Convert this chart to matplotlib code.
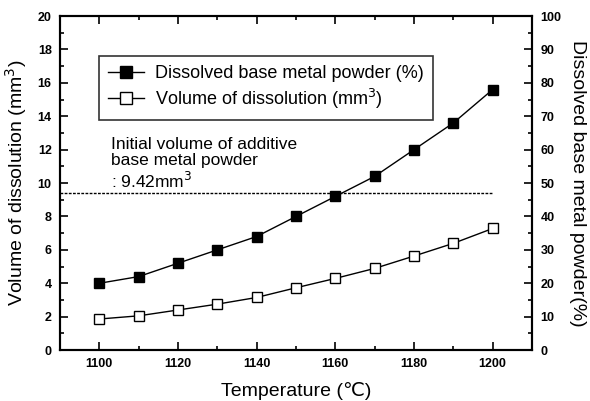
import numpy as np
import matplotlib
matplotlib.use('Agg')
import matplotlib.pyplot as plt

plt.rcParams['font.family'] = ['Liberation Sans', 'DejaVu Sans']

# Data
temperature = [1100, 1110, 1120, 1130, 1140, 1150, 1160, 1170, 1180, 1190, 1200]
dissolved_pct = [20, 22, 26, 30, 34, 40, 46, 52, 60, 68, 78]
volume_mm3 = [1.86, 2.05, 2.4, 2.75, 3.15, 3.73, 4.29, 4.89, 5.63, 6.39, 7.28]
initial_volume = 9.42

fig = plt.figure(figsize=(5.9, 4.01), dpi=100)
ax = fig.add_axes([0.1017, 0.127, 0.8, 0.833])
ax2 = ax.twinx()

l1, = ax2.plot(temperature, dissolved_pct, '-s', color='black', mfc='black',
               markersize=7.5, linewidth=1, label='Dissolved base metal powder (%)')
l2, = ax.plot(temperature, volume_mm3, '-s', color='black', mfc='white',
              markersize=7.5, linewidth=1, label='Volume of dissolution (mm$^3$)')

ax.hlines(initial_volume, 1090, 1200, colors='black', linestyles=(0, (2, 1)), linewidth=1)
ax.text(1103, 9.55, 'Initial volume of additive\nbase metal powder\n: 9.42mm$^3$',
        fontsize=12.5, va='bottom', ha='left', linespacing=1.12)

ax.set_xlim(1090, 1210)
ax.set_ylim(0, 20)
ax2.set_ylim(0, 100)

ax.set_xticks(np.arange(1100, 1201, 20))
ax.set_xticks(np.arange(1090, 1211, 10), minor=True)
ax.set_yticks(np.arange(0, 21, 2))
ax.set_yticks(np.arange(0, 21, 1), minor=True)
ax2.set_yticks(np.arange(0, 101, 10))
ax2.set_yticks(np.arange(0, 101, 5), minor=True)

ax.tick_params(which='both', direction='in', top=True, width=1.2, labelsize=9, pad=6)
ax.tick_params(which='major', length=6)
ax.tick_params(which='minor', length=3)
ax2.tick_params(which='both', direction='in', width=1.2, labelsize=9, pad=6)
ax2.tick_params(which='major', length=6)
ax2.tick_params(which='minor', length=3)
for lab in ax.get_xticklabels() + ax.get_yticklabels() + ax2.get_yticklabels():
    lab.set_fontweight('bold')

for a in (ax, ax2):
    for s in a.spines.values():
        s.set_linewidth(1.5)

ax.set_xlabel('Temperature (℃)', fontsize=14, labelpad=8)
ax.set_ylabel('Volume of dissolution (mm$^3$)', fontsize=14, labelpad=6)
ax2.set_ylabel('Dissolved base metal powder(%)', fontsize=14, rotation=270, labelpad=18)

leg = ax.legend(handles=[l1, l2], loc='upper left', bbox_to_anchor=(0.0636, 0.907),
                fontsize=13, frameon=True, fancybox=False, edgecolor='black',
                handlelength=2.0, borderpad=0.5, labelspacing=0.25, handletextpad=0.6,
                markerscale=1.2)
leg.get_frame().set_linewidth(1.2)

fig.savefig('out.png', dpi=100)
